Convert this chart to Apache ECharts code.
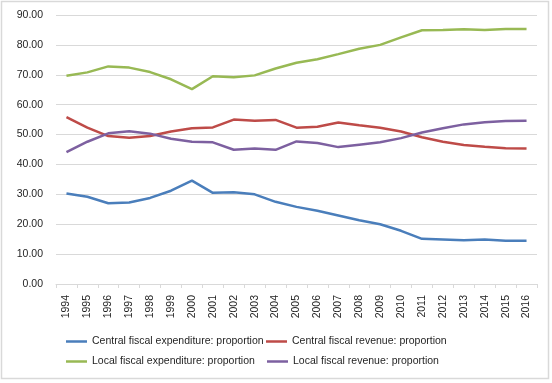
<!DOCTYPE html>
<html>
<head>
<meta charset="utf-8">
<script src="https://cdn.jsdelivr.net/npm/echarts@6/dist/echarts.min.js"></script>
<style>
  html, body { margin: 0; padding: 0; background: #fff; }
  #chart { width: 552px; height: 383px; }
</style>
</head>
<body>
<div id="chart"></div>
<script>
const years = ["1994", "1995", "1996", "1997", "1998", "1999", "2000", "2001", "2002", "2003", "2004",
  "2005", "2006", "2007", "2008", "2009", "2010", "2011", "2012", "2013", "2014", "2015", "2016"];

const centralExpenditure = [30.3, 29.2, 27.0, 27.3, 28.8, 31.2, 34.6, 30.5, 30.7, 30.0, 27.5,
  25.8, 24.5, 22.9, 21.3, 20.0, 17.8, 15.1, 14.9, 14.6, 14.9, 14.5, 14.5];
const centralRevenue = [55.8, 52.3, 49.5, 48.9, 49.5, 51.0, 52.1, 52.4, 55.0, 54.6, 54.9,
  52.3, 52.6, 54.0, 53.1, 52.3, 51.0, 49.1, 47.6, 46.5, 45.9, 45.4, 45.3];
const localExpenditure = [69.7, 70.8, 72.8, 72.4, 70.9, 68.5, 65.2, 69.5, 69.2, 69.8, 72.1,
  74.0, 75.2, 76.9, 78.7, 80.0, 82.5, 84.9, 85.0, 85.2, 85.0, 85.3, 85.3];
const localRevenue = [44.1, 47.6, 50.4, 51.1, 50.3, 48.6, 47.6, 47.4, 44.9, 45.3, 44.9,
  47.7, 47.2, 45.8, 46.6, 47.4, 48.8, 50.7, 52.1, 53.4, 54.1, 54.5, 54.6];

const SERIES = [
  { name: "Central fiscal expenditure: proportion", data: centralExpenditure, color: "#4A7EBB" },
  { name: "Central fiscal revenue: proportion", data: centralRevenue, color: "#BE4B48" },
  { name: "Local fiscal expenditure: proportion", data: localExpenditure, color: "#98B954" },
  { name: "Local fiscal revenue: proportion", data: localRevenue, color: "#7D60A0" },
];

// legend slots (Excel lays them out as two columns)
const LEGEND_POS = [
  { left: 66, top: 336 },
  { left: 266, top: 336 },
  { left: 66, top: 356 },
  { left: 267, top: 356 },
];

const FONT = "'Liberation Sans', Arial, sans-serif";
const TEXT = "#1f1f1f";

const chart = echarts.init(document.getElementById("chart"), null, { renderer: "canvas" });

chart.setOption({
  backgroundColor: "#fff",
  animation: false,
  textStyle: { fontFamily: FONT },
  graphic: [{
    type: "rect",
    shape: { x: 1.5, y: 1.5, width: 547, height: 377 },
    style: { fill: "none", stroke: "#d9d9d9", lineWidth: 1.5 },
    silent: true,
  }],
  grid: { left: 56, right: 15, top: 15, bottom: 99 },
  legend: SERIES.map((s, i) => ({
    left: LEGEND_POS[i].left,
    top: LEGEND_POS[i].top,
    padding: 0,
    itemWidth: 21,
    itemHeight: 2.5,
    icon: "rect",
    textStyle: { color: TEXT, fontSize: 10.5, fontFamily: FONT },
    data: [s.name],
  })),
  xAxis: {
    type: "category",
    data: years,
    boundaryGap: true,
    axisLine: { lineStyle: { color: "#d9d9d9", width: 1 } },
    axisTick: { show: true, length: 4, lineStyle: { color: "#d9d9d9" } },
    axisLabel: { rotate: 90, color: TEXT, fontSize: 10.5, fontFamily: FONT, margin: 11, interval: 0 },
  },
  yAxis: {
    type: "value",
    min: 0,
    max: 90,
    interval: 10,
    axisLine: { show: false },
    axisTick: { show: false },
    splitLine: { lineStyle: { color: "#d9d9d9", width: 1 } },
    axisLabel: {
      color: TEXT, fontSize: 10.5, fontFamily: FONT, margin: 13,
      formatter: v => v.toFixed(2),
    },
  },
  series: SERIES.map(s => ({
    type: "line",
    name: s.name,
    data: s.data,
    color: s.color,
    symbol: "none",
    lineStyle: { width: 2.5, color: s.color },
  })),
});
</script>
</body>
</html>
